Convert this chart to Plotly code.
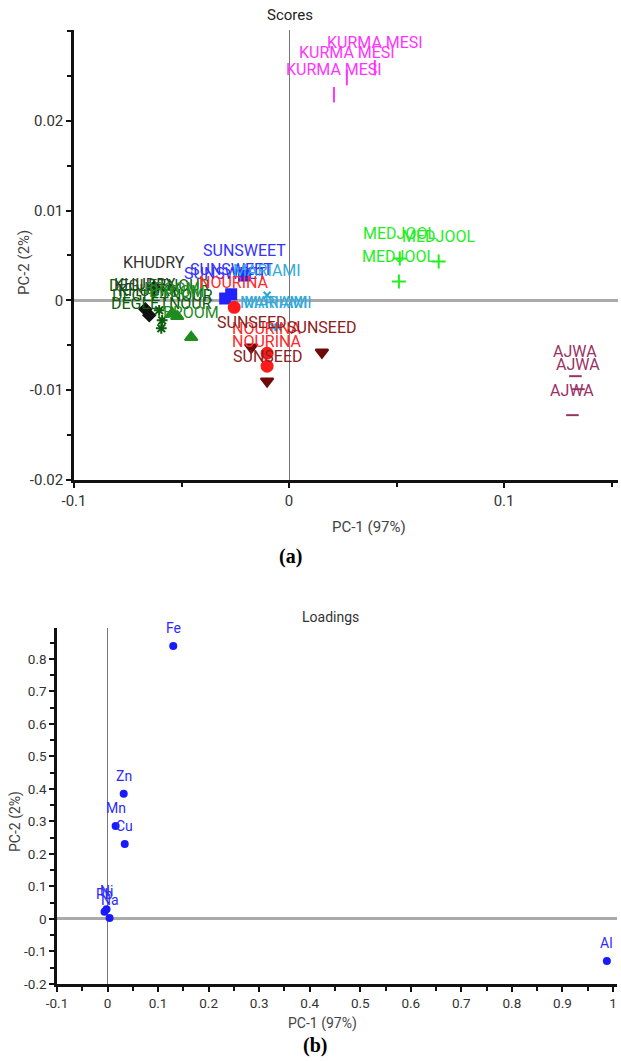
import numpy as np
import plotly.graph_objects as go

# ---------------- Scores (PC-1 vs PC-2) ----------------
groups = ["KURMA MESI", "MEDJOOL", "AJWA", "KHUDRY", "DEGLETNOUR",
          "BROOM", "SUNSWEET", "NOURINA", "MARIAMI", "SUNSEED"]

kurma_pc1 = [0.0399, 0.0269, 0.0209]
kurma_pc2 = [0.0259, 0.0248, 0.0229]
medjool_pc1 = [0.0515, 0.0696, 0.0511]
medjool_pc2 = [0.00467, 0.00433, 0.00211]
ajwa_pc1 = [0.1332, 0.1346, 0.1318]
ajwa_pc2 = [-0.00844, -0.00989, -0.01278]
khudry_pc1 = [-0.0627, -0.0650, -0.0668]
khudry_pc2 = [0.00144, -0.00167, -0.00100]
deglet_pc1 = [-0.0604, -0.0590, -0.0594]
deglet_pc2 = [-0.00111, -0.00222, -0.00311]
broom_pc1 = [-0.0543, -0.0455, -0.0520]
broom_pc2 = [-0.00144, -0.00411, -0.00178]
sunsweet_pc1 = [-0.0209, -0.0269, -0.0297]
sunsweet_pc2 = [0.00278, 0.00067, 0.00022]
nourina_pc1 = [-0.0255, -0.0102, -0.0102]
nourina_pc2 = [-0.00078, -0.00589, -0.00733]
mariami_pc1 = [-0.0102, -0.0070, -0.0051]
mariami_pc2 = [0.00056, -0.0030, -0.0030]
sunseed_pc1 = [-0.0176, 0.0153, -0.0102]
sunseed_pc2 = [-0.00522, -0.00578, -0.0090]

score_x = [kurma_pc1, medjool_pc1, ajwa_pc1, khudry_pc1, deglet_pc1,
           broom_pc1, sunsweet_pc1, nourina_pc1, mariami_pc1, sunseed_pc1]
score_y = [kurma_pc2, medjool_pc2, ajwa_pc2, khudry_pc2, deglet_pc2,
           broom_pc2, sunsweet_pc2, nourina_pc2, mariami_pc2, sunseed_pc2]

# per-group marker symbol, size, marker colour, label colour
styles = {
    "KURMA MESI": ("line-ns-open", 11, "#ff33ff", "#ff33ff"),
    "MEDJOOL": ("cross-thin-open", 10, "#22ee22", "#22ee22"),
    "AJWA": ("line-ew-open", 9, "#993366", "#993366"),
    "KHUDRY": ("diamond", 9, "#111111", "#333333"),
    "DEGLETNOUR": ("asterisk-open", 9, "#0b5e0b", "#0b5e0b"),
    "BROOM": ("triangle-up", 11, "#1e8c1e", "#1e8c1e"),
    "SUNSWEET": ("square", 10, "#2222ff", "#3333ff"),
    "NOURINA": ("circle", 11, "#ff1a1a", "#ff2a2a"),
    "MARIAMI": ("x-thin-open", 7, "#2aa6d8", "#33aadd"),
    "SUNSEED": ("triangle-down", 11, "#6e0a0a", "#8b2020"),
}

# ---------------- Loadings ----------------
elements = ["Fe", "Zn", "Mn", "Cu", "Pb", "Ni", "Na", "Al"]
load_pc1 = [0.130, 0.032, 0.016, 0.034, -0.006, -0.002, 0.004, 0.988]
load_pc2 = [0.840, 0.385, 0.286, 0.231, 0.022, 0.030, 0.003, -0.129]

# tick labels
top_xticks = [-0.1, 0, 0.1]
top_xtext = ["-0.1", "0", "0.1"]
top_yticks = [-0.02, -0.01, 0, 0.01, 0.02]
top_ytext = ["-0.02", "-0.01", "0", "0.01", "0.02"]
bot_xticks = [-0.1, 0, 0.1, 0.2, 0.3, 0.4, 0.5, 0.6, 0.7, 0.8, 0.9, 1]
bot_xtext = ["-0.1", "0", "0.1", "0.2", "0.3", "0.4", "0.5", "0.6", "0.7", "0.8", "0.9", "1"]
bot_yticks = [-0.2, -0.1, 0, 0.1, 0.2, 0.3, 0.4, 0.5, 0.6, 0.7, 0.8]
bot_ytext = ["-0.2", "-0.1", "0", "0.1", "0.2", "0.3", "0.4", "0.5", "0.6", "0.7", "0.8"]

LABEL_FONT = "Roboto, Arial"
TOP_TICK_FONT = dict(family=LABEL_FONT, size=15, color="#333333")
BOT_TICK_FONT = dict(family=LABEL_FONT, size=13.5, color="#333333")

fig = go.Figure()
annotations = []

for name, xs, ys in zip(groups, score_x, score_y):
    sym, size, mcol, tcol = styles[name]
    fig.add_trace(go.Scatter(
        x=xs, y=ys, mode="markers", xaxis="x", yaxis="y",
        marker=dict(symbol=sym, size=size, color=mcol,
                    line=dict(color=mcol, width=2)),
        showlegend=False, hoverinfo="skip"))
    for xv, yv in zip(xs, ys):
        annotations.append(dict(
            x=xv, y=yv, xref="x", yref="y", text=name, showarrow=False,
            yshift=25, font=dict(family=LABEL_FONT, size=16, color=tcol)))

fig.add_trace(go.Scatter(
    x=load_pc1, y=load_pc2, mode="markers", xaxis="x2", yaxis="y2",
    marker=dict(symbol="circle", size=8, color="#1a1aff"),
    showlegend=False, hoverinfo="skip"))
for el, xv, yv in zip(elements, load_pc1, load_pc2):
    annotations.append(dict(
        x=xv, y=yv, xref="x2", yref="y2", text=el, showarrow=False,
        yshift=18, font=dict(family=LABEL_FONT, size=14, color="#2a2aff")))

# titles, axis titles and panel letters
W, H = 621, 1061
text_items = [
    ("Scores", 290, 15, 15, "#222222", LABEL_FONT, 0),
    ("PC-1 (97%)", 369, 527, 15, "#444444", LABEL_FONT, 0),
    ("PC-2 (2%)", 24, 263, 15, "#444444", LABEL_FONT, -90),
    ("<b>(a)</b>", 290, 556, 20, "#000000", "Liberation Serif, Times New Roman", 0),
    ("Loadings", 330, 617, 14, "#333333", LABEL_FONT, 0),
    ("PC-1 (97%)", 322, 1023, 14, "#444444", LABEL_FONT, 0),
    ("PC-2 (2%)", 15, 822, 14, "#444444", LABEL_FONT, -90),
    ("<b>(b)</b>", 315, 1045, 20, "#000000", "Liberation Serif, Times New Roman", 0),
]
for txt, px, py, fs, col, fam, ang in text_items:
    annotations.append(dict(
        x=px / W, y=1 - py / H, xref="paper", yref="paper", text=txt,
        showarrow=False, xanchor="center", yanchor="middle", textangle=ang,
        font=dict(family=fam, size=fs, color=col)))


def axis_style(domain, rng, tickvals, ticktext, minor_step, zl_width, zl_color, anchor, tfont):
    return dict(
        domain=domain, range=rng, anchor=anchor, automargin=False,
        tickmode="array", tickvals=tickvals, ticktext=ticktext,
        ticks="outside", ticklen=5, tickwidth=1.5, tickcolor="#111111",
        minor=dict(tickmode="array",
                   tickvals=list(np.round(np.arange(rng[0] - minor_step, rng[1] + minor_step, minor_step), 6)),
                   ticks="outside", ticklen=4, tickwidth=1.5, tickcolor="#111111"),
        showline=True, linecolor="#111111", linewidth=2.5, mirror=False,
        showgrid=False, zeroline=True, zerolinewidth=zl_width, zerolinecolor=zl_color,
        tickfont=tfont,
    )


fig.update_layout(
    width=W, height=H,
    margin=dict(l=0, r=0, t=0, b=0, autoexpand=False),
    paper_bgcolor="white", plot_bgcolor="white",
    xaxis=axis_style([74 / W, 618 / W], [-0.1, 0.153], top_xticks, top_xtext,
                     0.05, 1, "#777777", "y", TOP_TICK_FONT),
    yaxis=axis_style([1 - 480 / H, 1 - 30 / H], [-0.02, 0.0301], top_yticks, top_ytext,
                     0.005, 2.5, "#aaaaaa", "x", TOP_TICK_FONT),
    xaxis2=axis_style([57 / W, 617 / W], [-0.1, 1.008], bot_xticks, bot_xtext,
                      0.05, 1, "#777777", "y2", BOT_TICK_FONT),
    yaxis2=axis_style([1 - 984 / H, 1 - 628 / H], [-0.2, 0.895], bot_yticks, bot_ytext,
                      0.05, 2.5, "#aaaaaa", "x2", BOT_TICK_FONT),
    annotations=annotations,
)

fig.write_html("out.html")
